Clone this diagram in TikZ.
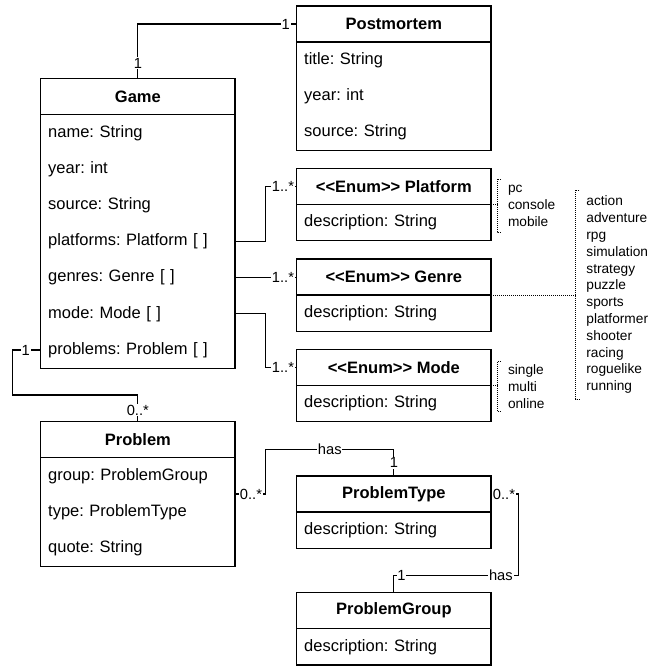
\documentclass[tikz,border=0pt]{standalone}
\usepackage{fontspec}
\setmainfont{Liberation Sans}[Ligatures=TeXOff]
\usetikzlibrary{positioning,calc}
\frenchspacing

\tikzset{
  classhead/.style={draw, line width=1.2pt, minimum width=194.3pt, minimum height=36pt,
    inner sep=0pt, outer sep=0pt, anchor=north west, font=\bfseries\fontsize{16.5}{19}\selectfont},
  attr/.style={minimum width=194.3pt, minimum height=36.2pt, text width=179.3pt,
    inner xsep=7.5pt, inner ysep=0pt, outer sep=0pt, align=left, font=\fontsize{16.5}{19}\selectfont},
  link/.style={line width=1.2pt},
  mult/.style={fill=white, inner sep=0.8pt, font=\fontsize{14.7}{17}\selectfont},
  enumnote/.style={anchor=west, inner xsep=10.7pt, inner ysep=0pt, outer sep=0pt, align=left,
    font=\fontsize{13.7}{16.8}\selectfont},
  notebr/.style={dash pattern=on 1pt off 1pt, line width=1pt},
}

\begin{document}
\begin{tikzpicture}[x=1pt, y=-1pt]
\useasboundingbox (0,0) rectangle (660,666);

% Game
\node[classhead] (game) at (40.7,78.7) {Game};
\node[attr, below=0pt of game] (g-name) {name: String};
\node[attr, below=0pt of g-name] (g-year) {year: int};
\node[attr, below=0pt of g-year] (g-source) {source: String};
\node[attr, below=0pt of g-source] (g-platforms) {platforms: Platform [ ]};
\node[attr, below=0pt of g-platforms] (g-genres) {genres: Genre [ ]};
\node[attr, below=0pt of g-genres] (g-mode) {mode: Mode [ ]};
\node[attr, below=0pt of g-mode] (g-problems) {problems: Problem [ ]};
\draw[link] (game.south west) rectangle (g-problems.south east);

% Postmortem
\node[classhead] (post) at (296.7,6) {Postmortem};
\node[attr, below=0pt of post] (pm-title) {title: String};
\node[attr, below=0pt of pm-title] (pm-year) {year: int};
\node[attr, below=0pt of pm-year] (pm-source) {source: String};
\draw[link] (post.south west) rectangle (pm-source.south east);

% enums
\node[classhead] (plat) at (296.7,168.3) {<<Enum>> Platform};
\node[attr, below=0pt of plat] (plat-desc) {description: String};
\draw[link] (plat.south west) rectangle (plat-desc.south east);

\node[classhead] (genre) at (296.7,259) {<<Enum>> Genre};
\node[attr, below=0pt of genre] (genre-desc) {description: String};
\draw[link] (genre.south west) rectangle (genre-desc.south east);

\node[classhead] (mode) at (296.7,349.3) {<<Enum>> Mode};
\node[attr, below=0pt of mode] (mode-desc) {description: String};
\draw[link] (mode.south west) rectangle (mode-desc.south east);

% Problem
\node[classhead] (prob) at (40.7,421.7) {Problem};
\node[attr, below=0pt of prob] (p-group) {group: ProblemGroup};
\node[attr, below=0pt of p-group] (p-type) {type: ProblemType};
\node[attr, below=0pt of p-type] (p-quote) {quote: String};
\draw[link] (prob.south west) rectangle (p-quote.south east);

\node[classhead] (ptype) at (296.7,476) {ProblemType};
\node[attr, below=0pt of ptype] (pt-desc) {description: String};
\draw[link] (ptype.south west) rectangle (pt-desc.south east);

\node[classhead] (pgroup) at (296.7,592.7) {ProblemGroup};
\node[attr, below=0pt of pgroup] (pg-desc) {description: String};
\draw[link] (pgroup.south west) rectangle (pg-desc.south east);

% enum values
\node[enumnote, minimum height=53.3pt] (platnote) at (497.3,205.7) {pc\\console\\mobile};
\node[enumnote, minimum height=209.3pt] (genrenote) at (575.7,294.7)
  {action\\adventure\\rpg\\simulation\\strategy\\puzzle\\sports\\platformer\\shooter\\racing\\roguelike\\running};
\node[enumnote, minimum height=50pt] (modenote) at (497.3,386.7) {single\\multi\\online};
\foreach \n/\c in {platnote/plat, genrenote/genre, modenote/mode} {
  \draw[notebr] ([xshift=3.7pt]\n.north west) -- (\n.north west) -- (\n.south west) -- ([xshift=3.7pt]\n.south west);
  \draw[notebr] (\c.south east) -- (\c.south east -| \n.west);
}

% associations
\draw[link] (game.north) |- (post.west);
\node[mult] at ([yshift=15.4pt]game.north) {1};
\node[mult] at ([xshift=-11pt]post.west) {1};

\draw[link] (g-platforms.east) -- ++(30.7,0) |- (plat.west);
\node[mult] at ([xshift=-13.7pt]plat.west) {1..*};
\draw[link] (g-genres.east) -- (g-genres.east -| genre.west);
\node[mult] at ([xshift=-13.7pt]g-genres.east -| genre.west) {1..*};
\draw[link] (g-mode.east) -- ++(30.7,0) |- (mode.west);
\node[mult] at ([xshift=-13.7pt]mode.west) {1..*};

\draw[link] (g-problems.west) -- ++(-28,0) |- ([yshift=26.7pt]prob.north) -- (prob.north);
\node[mult] at ([xshift=-15pt]g-problems.west) {1};
\node[mult] at ([yshift=11.7pt]prob.north) {0..*};

\coordinate (p-mid) at ($(prob.north east)!.5!(p-quote.south east)$);
\draw[link] (p-mid) -- ++(30.7,0) |- node[mult, pos=0.75] {has} ([yshift=26.7pt]ptype.north) -- (ptype.north);
\node[mult] at ([xshift=16pt]p-mid) {0..*};
\node[mult] at ([yshift=13.3pt]ptype.north) {1};

\draw[link] (ptype.east) -- ++(27.3,0) |- node[mult, pos=0.57] {has} node[mult, pos=0.969] {1}
  ([yshift=17pt]pgroup.north) -- (pgroup.north);
\node[mult] at ([xshift=13pt]ptype.east) {0..*};
\end{tikzpicture}
\end{document}
